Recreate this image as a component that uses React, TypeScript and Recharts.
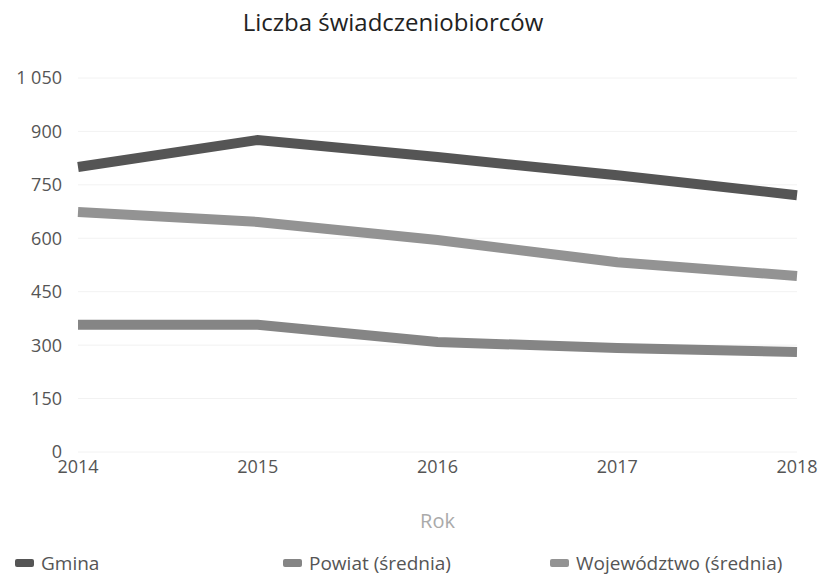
import { LineChart, Line, XAxis, YAxis, CartesianGrid, Legend } from "recharts";

const years = ["2014", "2015", "2016", "2017", "2018"];
const gmina = [800, 876, 828, 777, 721];
const powiat = [357, 357, 309, 292, 281];
const wojewodztwo = [674, 646, 595, 533, 494];
const yTicks = [0, 150, 300, 450, 600, 750, 900, 1050];

const seriesList = [
  { key: "gmina", name: "Gmina", color: "#555555" },
  { key: "powiat", name: "Powiat (średnia)", color: "#858585" },
  { key: "wojewodztwo", name: "Województwo (średnia)", color: "#939393" },
];

const data = years.map((year, i) => ({
  year,
  gmina: gmina[i],
  powiat: powiat[i],
  wojewodztwo: wojewodztwo[i],
}));

const font = "'Open Sans', sans-serif";

const fmt = (v: number) => (v >= 1000 ? String(v).replace(/(\d)(\d{3})$/, "$1 $2") : String(v));

const LegendRow = () => (
  <div
    style={{
      display: "grid",
      gridTemplateColumns: "268px 267px 288px",
      paddingLeft: 15,
      height: 26,
      lineHeight: "26px",
      fontFamily: font,
      fontSize: 19,
      color: "#555",
      textAlign: "left",
      whiteSpace: "nowrap",
    }}
  >
    {seriesList.map((s) => (
      <div key={s.key} style={{ display: "flex", alignItems: "center", gap: 7 }}>
        <span style={{ width: 19, height: 8, borderRadius: 2, background: s.color, display: "inline-block" }} />
        <span>{s.name}</span>
      </div>
    ))}
  </div>
);

const App = () => {
  return (
    <div style={{ position: "absolute", top: 0, left: 0, width: 823, height: 576, background: "#fff" }}>
      <div
        style={{
          position: "absolute",
          top: 5,
          left: 0,
          width: 786,
          textAlign: "center",
          fontFamily: font,
          fontSize: 24,
          color: "#222",
        }}
      >
        Liczba świadczeniobiorców
      </div>
      <LineChart width={823} height={576} data={data} margin={{ top: 78, right: 26, left: 0, bottom: 0 }}>
        <CartesianGrid vertical={false} stroke="#f2f2f2" />
        <XAxis
          dataKey="year"
          tickLine={false}
          axisLine={false}
          tickSize={0}
          tickMargin={8}
          height={98}
          tick={{ fill: "#555", fontSize: 18, fontFamily: font }}
          label={{ value: "Rok", position: "insideBottom", offset: 22, fill: "#aaa", fontSize: 20, fontFamily: font }}
        />
        <YAxis
          domain={[0, 1050]}
          ticks={yTicks}
          tickFormatter={fmt}
          tickLine={false}
          axisLine={false}
          tickSize={0}
          tickMargin={16}
          width={78}
          tick={{ fill: "#555", fontSize: 18, fontFamily: font }}
        />
        <Legend verticalAlign="bottom" content={() => <LegendRow />} />
        {seriesList.map((s) => (
          <Line
            key={s.key}
            type="linear"
            dataKey={s.key}
            name={s.name}
            stroke={s.color}
            strokeWidth={10}
            dot={false}
            activeDot={false}
            isAnimationActive={false}
          />
        ))}
      </LineChart>
    </div>
  );
};

export default App;
